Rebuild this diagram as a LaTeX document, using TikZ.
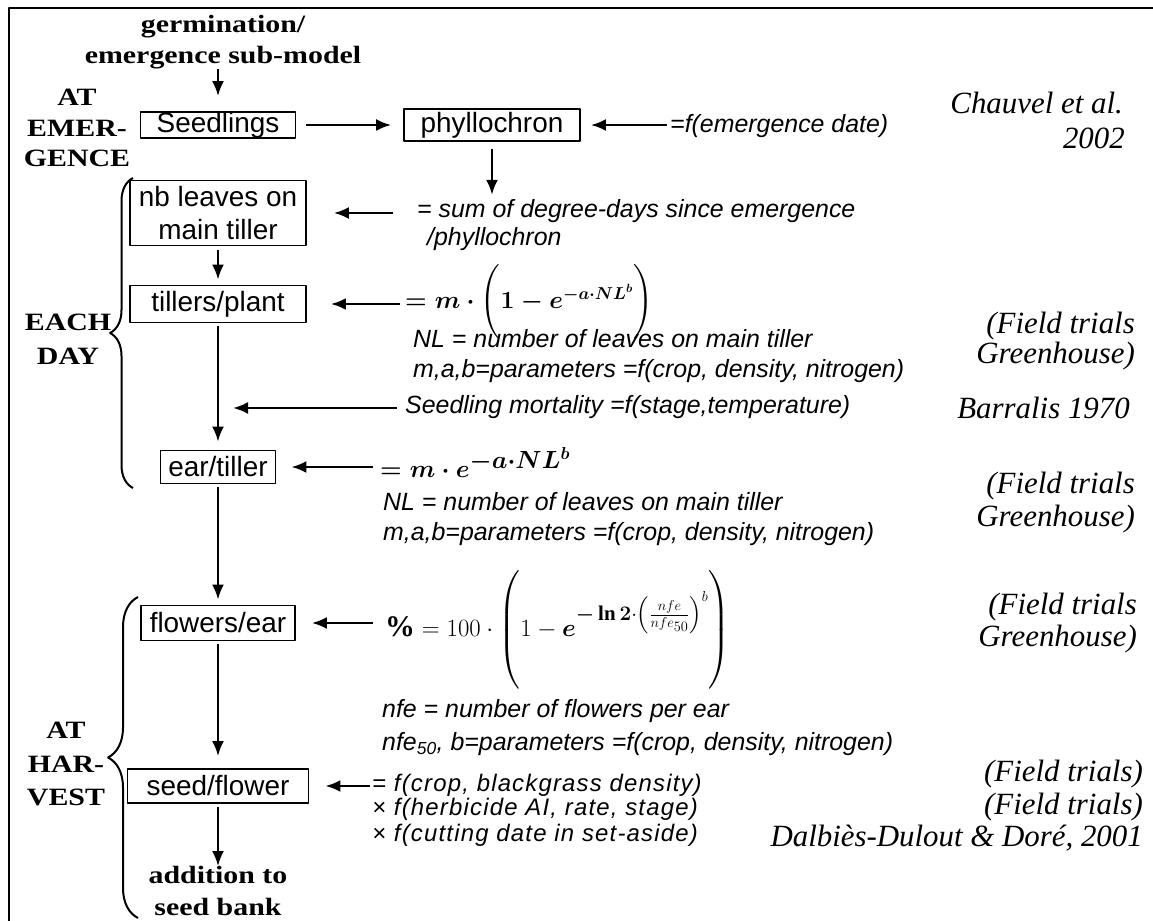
\documentclass[tikz,border=0pt]{standalone}
\usepackage{amsmath}
\usepackage{fontspec}
\setmainfont{Liberation Serif}
\setsansfont{Liberation Sans}
\newfontfamily\widefont[FakeStretch=1.2]{Liberation Serif}
\usetikzlibrary{arrows.meta,decorations.pathreplacing}

\newcommand{\tillereq}{$\boldsymbol{= m\cdot\Biggl(1 - e^{-a\cdot NL^{b}}\Biggr)}$}
\newcommand{\eareq}{$\boldsymbol{= m\cdot e^{-a\cdot NL^{b}}}$}
\newcommand{\flowereq}{$\boldsymbol{\%} = 100\cdot\left(\rule[-51bp]{0pt}{115bp}1 - \boldsymbol{e}^{\boldsymbol{-\ln 2}\cdot\left(\frac{nfe}{nfe_{50}}\right)^{b}}\right)$}

\begin{document}
\begin{tikzpicture}[>={Latex[length=15bp,width=12bp]},line join=bevel,
  stage/.style={draw,line width=1.8bp,inner sep=0pt,align=center,
    font=\sffamily\fontsize{28}{33}\selectfont},
  remark/.style={inner sep=0pt,anchor=west,text height=17bp,text depth=5bp,
    font=\sffamily\itshape\fontsize{25}{26}\selectfont},
  faint/.style={remark,font=\sffamily\itshape\fontsize{24}{25}\selectfont\addfontfeature{LetterSpace=5}},
  source/.style={inner sep=0pt,anchor=east,text height=21bp,text depth=7bp,
    font=\itshape\fontsize{31}{32}\selectfont},
  phase/.style={inner sep=0pt,align=center,font=\widefont\bfseries\fontsize{25}{31}\selectfont},
  eqn/.style={inner sep=0pt,anchor=west},
  flow/.style={->,line width=2.4bp},
  period/.style={line width=2bp,decorate,decoration={brace,amplitude=#1}},
]
\useasboundingbox (0bp,0bp) rectangle (1153bp,921bp);
%%
  % Frame
  \draw [line width=2.5bp] (9bp,0bp) -- (9bp,913bp) -- (1153bp,913bp);
  % Node: germination
  \node [phase] (germ) at (223bp,879bp) {germination/\\emergence sub-model};
  % Node: Seedlings
  \node [stage,minimum width=155bp,minimum height=25bp] (seedlings) at (218bp,796bp) {Seedlings};
  % Node: phyllochron
  \node [stage,minimum width=176bp,minimum height=32bp] (phyllo) at (492bp,796bp) {phyllochron};
  % Node: nb leaves
  \node [stage,minimum width=176bp,minimum height=65bp] (nbleaves) at (218bp,708bp) {nb leaves on\\main tiller};
  % Node: tillers/plant
  \node [stage,minimum width=176bp,minimum height=37bp] (tillers) at (218bp,617bp) {tillers/plant};
  % Node: ear/tiller
  \node [stage,minimum width=115bp,minimum height=33bp] (eartiller) at (218bp,454bp) {ear/tiller};
  % Node: flowers/ear
  \node [stage,minimum width=154bp,minimum height=35bp] (flowers) at (218bp,298bp) {flowers/ear};
  % Node: seed/flower
  \node [stage,minimum width=181bp,minimum height=34bp] (seed) at (218bp,135bp) {seed/flower};
  % Node: seed bank
  \node [phase,font=\widefont\bfseries\fontsize{25}{32}\selectfont] (addition) at (218bp,30bp) {addition to\\seed bank};
%
  % Periods
  \node [phase,font=\widefont\bfseries\fontsize{25}{30.5}\selectfont] (emerg) at (77bp,793bp) {AT\\EMER-\\GENCE};
  \node [phase,font=\widefont\bfseries\fontsize{25}{34}\selectfont] (eachday) at (68bp,582bp) {EACH\\DAY};
  \node [phase,font=\widefont\bfseries\fontsize{25}{34}\selectfont] (harvest) at (66bp,157bp) {AT\\HAR-\\VEST};
  \draw [period=23bp] (133bp,433bp) -- (133bp,743bp);
  \draw [period=30bp] (138bp,3bp) -- (138bp,324bp);
%
  % Equations and notes
  \node [remark] (edate) at (670bp,794bp) {=f(emergence date)};
  \node [remark] (sumA) at (417bp,709bp) {= sum of degree-days since emergence};
  \node [remark] (sumB) at (427bp,681bp) {/phyllochron};
  \node [eqn,font=\fontsize{26}{28}\selectfont] (form1) at (405bp,619bp) {\tillereq};
  \node [remark] (nl1) at (413bp,579bp) {NL = number of leaves on main tiller};
  \node [remark] (par1) at (413bp,549bp) {m,a,b=parameters =f(crop, density, nitrogen)};
  \node [remark] (mort) at (405bp,513bp) {Seedling mortality =f(stage,temperature)};
  \coordinate (mortend) at (218bp,513bp);
  \node [eqn,font=\fontsize{35}{36}\selectfont] (form2) at (380bp,458bp) {\eareq};
  \node [remark] (nl2) at (383bp,416bp) {NL = number of leaves on main tiller};
  \node [remark] (par2) at (383bp,386bp) {m,a,b=parameters =f(crop, density, nitrogen)};
  \node [eqn,font=\fontsize{30}{31}\selectfont] (form3) at (385bp,291bp) {\flowereq};
  \node [remark] (nfe1) at (382bp,209bp) {nfe = number of flowers per ear};
  \node [remark] (nfe2) at (382bp,176bp) {nfe\textsubscript{50}, b=parameters =f(crop, density, nitrogen)};
  \node [faint] (fcrop) at (372bp,135bp) {= f(crop, blackgrass density)};
  \node [faint] (herb) at (372bp,111bp) {× f(herbicide AI, rate, stage)};
  \node [faint] (cut) at (372bp,85bp) {× f(cutting date in set-aside)};
%
  % Sources
  \node [source] (chauvel) at (1123bp,814bp) {Chauvel et al.};
  \node [source] (chauvelyr) at (1125bp,779bp) {2002};
  \node [source] (ft1) at (1135bp,594bp) {(Field trials};
  \node [source] (gh1) at (1135bp,564bp) {Greenhouse)};
  \node [source] (barralis) at (1130bp,509bp) {Barralis 1970};
  \node [source] (ft2) at (1135bp,434bp) {(Field trials};
  \node [source] (gh2) at (1135bp,401bp) {Greenhouse)};
  \node [source] (ft3) at (1137bp,313bp) {(Field trials};
  \node [source] (gh3) at (1137bp,281bp) {Greenhouse)};
  \node [source] (ft4) at (1143bp,146bp) {(Field trials)};
  \node [source] (ft5) at (1143bp,113bp) {(Field trials)};
  \node [source] (dalbies) at (1143bp,81bp) {Dalbiès-Dulout \& Doré, 2001};
%
  % Edge: germination -> Seedlings
  \draw [flow] (germ.south -| seedlings.north) -- ([yshift=15bp]seedlings.north);
  % Edge: Seedlings -> phyllochron
  \draw [flow,shorten <=10bp,shorten >=12bp] (seedlings.east) -- (seedlings.east -| phyllo.west);
  % Edge: emergence date -> phyllochron
  \draw [flow,shorten <=3bp,shorten >=10bp] (phyllo.east -| edate.west) -- (phyllo.east);
  % Edge: phyllochron -> sum
  \draw [flow,shorten <=7bp,shorten >=6bp] (phyllo.south) -- (phyllo.south |- sumA.north);
  % Edge: sum -> nb leaves
  \draw [flow,shorten <=24bp,shorten >=27bp] (nbleaves.east -| sumA.west) -- (nbleaves.east);
  % Edge: nb leaves -> tillers/plant
  \draw [flow,shorten <=4bp,shorten >=5bp] (nbleaves) -- (tillers);
  % Edge: equation -> tillers/plant
  \draw [flow,shorten <=5bp,shorten >=24bp] (tillers.east -| form1.west) -- (tillers.east);
  % Edge: tillers/plant -> ear/tiller
  \draw [flow,shorten <=3bp,shorten >=8bp] (tillers) -- (eartiller);
  % Edge: mortality -> tillers/plant -> ear/tiller
  \draw [flow,shorten <=8bp,shorten >=15bp] (mort.west) -- (mortend);
  % Edge: equation -> ear/tiller
  \draw [flow,shorten <=7bp,shorten >=15bp] (eartiller.east -| form2.west) -- (eartiller.east);
  % Edge: ear/tiller -> flowers/ear
  \draw [flow,shorten <=3bp,shorten >=5bp] (eartiller) -- (flowers);
  % Edge: equation -> flowers/ear
  \draw [flow,shorten <=12bp,shorten >=16bp] (flowers.east -| form3.west) -- (flowers.east);
  % Edge: flowers/ear -> seed/flower
  \draw [flow,shorten <=3bp,shorten >=12bp] (flowers) -- (seed);
  % Edge: f(crop) -> seed/flower
  \draw [flow,shorten <=2bp,shorten >=16bp] (seed.east -| fcrop.west) -- (seed.east);
  % Edge: seed/flower -> seed bank
  \draw [flow,shorten <=3bp] (seed) -- (addition);
%
\end{tikzpicture}
\end{document}
